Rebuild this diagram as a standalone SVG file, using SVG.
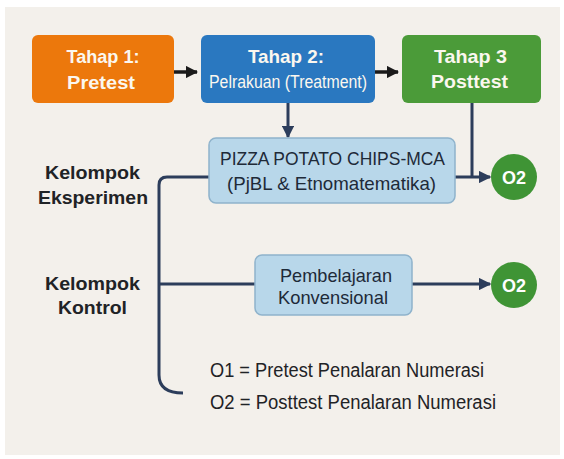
<svg xmlns="http://www.w3.org/2000/svg" width="564" height="459" viewBox="0 0 564 459">
<style>
  .t { font-family: "Liberation Sans", Arial, sans-serif; }
  .wh { fill: #FBF7EF; font-weight: bold; font-size: 18.5px; text-anchor: middle; }
  .dk { fill: #1F2326; font-weight: bold; font-size: 18.5px; text-anchor: middle; }
  .bx { fill: #1E2A38; font-size: 19px; text-anchor: middle; }
  .lg { fill: #1F2326; font-size: 19.5px; }
  .circ { fill: #3F9435; }
  .ctext { fill: #FFFFFF; font-weight: bold; font-size: 18px; text-anchor: middle; }
  .lb { fill: #B8D7EA; stroke: #8FB3CC; stroke-width: 1.5; }
  .conn { fill: none; stroke: #2C3D5B; stroke-width: 3; }
  .blk { fill: none; stroke: #1A1A1A; stroke-width: 3.5; }
</style>
<defs>
  <marker id="ah" viewBox="0 0 10 10" refX="9" refY="5" markerWidth="4.2" markerHeight="4.2" orient="auto" markerUnits="strokeWidth">
    <path d="M0 0 L10 5 L0 10 Z" fill="#2C3D5B"/>
  </marker>
  <marker id="ahb" viewBox="0 0 10 10" refX="9" refY="5" markerWidth="3.5" markerHeight="3.5" orient="auto" markerUnits="strokeWidth">
    <path d="M0 0 L10 5 L0 10 Z" fill="#1A1A1A"/>
  </marker>
</defs>
<rect x="0" y="0" width="564" height="459" fill="#FFFFFF"/>
<rect x="5" y="7" width="555" height="448" fill="#F3F0EB"/>

<g id="connectors">
  <path class="blk" d="M174 72 H197" marker-end="url(#ahb)"/>
  <path class="blk" d="M375 72 H398" marker-end="url(#ahb)"/>
  <path class="conn" d="M288 103 V137" marker-end="url(#ah)"/>
  <path class="conn" d="M472 103 V177"/>
  <path class="conn" d="M455 177 H490" marker-end="url(#ah)"/>
  <path class="conn" d="M209 177 H167 Q159 177 159 185 V375 Q159 393 183 393"/>
  <path class="conn" d="M159 284 H255"/>
  <path class="conn" d="M412 284 H490" marker-end="url(#ah)"/>
</g>

<g id="tahap1">
  <rect x="32" y="35" width="142" height="68" rx="6" fill="#EC780C"/>
  <text class="t wh" x="103" y="62.5" textLength="73" lengthAdjust="spacingAndGlyphs">Tahap 1:</text>
  <text class="t wh" x="101" y="88.5" textLength="68" lengthAdjust="spacingAndGlyphs">Pretest</text>
</g>
<g id="tahap2">
  <rect x="201" y="35" width="174" height="68" rx="6" fill="#2A78C0"/>
  <text class="t wh" x="286" y="62.5" textLength="76" lengthAdjust="spacingAndGlyphs">Tahap 2:</text>
  <text class="t wh" x="288" y="88" style="font-weight:normal;font-size:17.5px" textLength="158" lengthAdjust="spacingAndGlyphs">Pelrakuan (Treatment)</text>
</g>
<g id="tahap3">
  <rect x="402" y="35" width="139" height="68" rx="6" fill="#4B9B39"/>
  <text class="t wh" x="470.5" y="62.5" textLength="73" lengthAdjust="spacingAndGlyphs">Tahap 3</text>
  <text class="t wh" x="469.5" y="88" textLength="77" lengthAdjust="spacingAndGlyphs">Posttest</text>
</g>

<g id="eksperimen-label">
  <text class="t dk" x="92.5" y="178.5" textLength="95" lengthAdjust="spacingAndGlyphs">Kelompok</text>
  <text class="t dk" x="93" y="203.5" textLength="110" lengthAdjust="spacingAndGlyphs">Eksperimen</text>
</g>
<g id="kontrol-label">
  <text class="t dk" x="92.5" y="289.5" textLength="95" lengthAdjust="spacingAndGlyphs">Kelompok</text>
  <text class="t dk" x="92.5" y="313.5" textLength="69" lengthAdjust="spacingAndGlyphs">Kontrol</text>
</g>

<g id="pizza">
  <rect class="lb" x="209" y="138" width="246" height="65" rx="7"/>
  <text class="t bx" x="332.5" y="164.5" textLength="225" lengthAdjust="spacingAndGlyphs">PIZZA POTATO CHIPS-MCA</text>
  <text class="t bx" x="331.5" y="189.5" textLength="209" lengthAdjust="spacingAndGlyphs">(PjBL &amp; Etnomatematika)</text>
</g>
<g id="konvensional">
  <rect class="lb" x="255" y="255" width="157" height="60" rx="7"/>
  <text class="t bx" x="336" y="281.5" textLength="112" lengthAdjust="spacingAndGlyphs">Pembelajaran</text>
  <text class="t bx" x="333" y="303.5" textLength="110" lengthAdjust="spacingAndGlyphs">Konvensional</text>
</g>

<g id="o2-eksperimen">
  <circle class="circ" cx="514" cy="177" r="23"/>
  <text class="t ctext" x="514" y="183.5">O2</text>
</g>
<g id="o2-kontrol">
  <circle class="circ" cx="514" cy="285" r="23"/>
  <text class="t ctext" x="514" y="291.5">O2</text>
</g>

<g id="legend">
  <text class="t lg" x="210" y="377" textLength="274" lengthAdjust="spacingAndGlyphs">O1 = Pretest Penalaran Numerasi</text>
  <text class="t lg" x="210" y="409" textLength="286" lengthAdjust="spacingAndGlyphs">O2 = Posttest Penalaran Numerasi</text>
</g>
</svg>
